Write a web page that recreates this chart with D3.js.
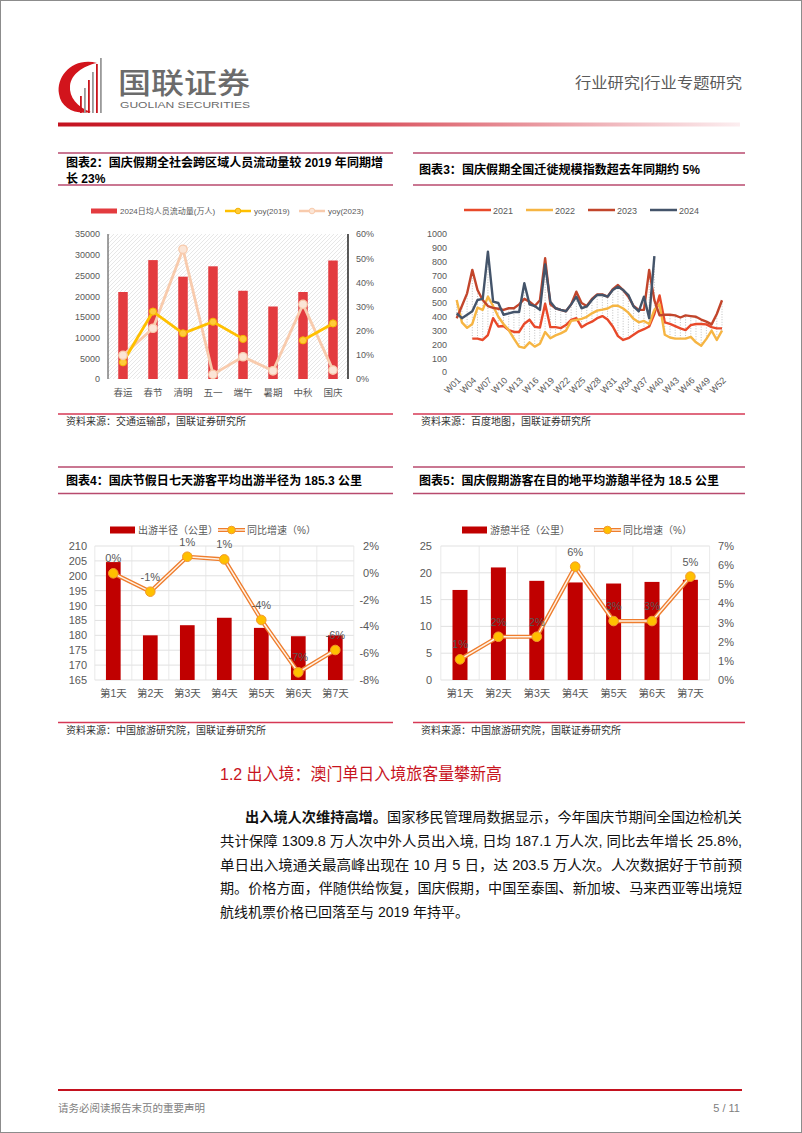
<!DOCTYPE html>
<html><head><meta charset="utf-8">
<script src="https://cdn.jsdelivr.net/npm/d3@7"></script>
<style>
body{margin:0;background:#fff}
svg{display:block}
text{font-family:"Liberation Sans","Noto Sans CJK SC",sans-serif}
</style>
</head><body>
<svg id="page" width="802" height="1133"></svg>
<script>
// ---------- DATA ----------
// Chart 2
const c2Categories = ["春运","春节","清明","五一","端午","暑期","中秋","国庆"];
const c2Flow = [21000,28700,24700,27200,21300,17500,21000,28600];
const c2Yoy2019 = [6.9,27.9,18.9,23.7,16.6,null,16.0,23.0];
const c2Yoy2023 = [9.8,21.0,53.7,1.9,9.2,3.4,30.9,3.7];
const c2LeftTicks = [0,5000,10000,15000,20000,25000,30000,35000];
const c2RightTicks = [0,10,20,30,40,50,60];

// Chart 3
const c3Weeks = ["W01","W02","W03","W04","W05","W06","W07","W08","W09","W10","W11","W12","W13","W14","W15","W16","W17","W18","W19","W20","W21","W22","W23","W24","W25","W26","W27","W28","W29","W30","W31","W32","W33","W34","W35","W36","W37","W38","W39","W40","W41","W42","W43","W44","W45","W46","W47","W48","W49","W50","W51","W52"];
const c3TickLabels = ["W01","W04","W07","W10","W13","W16","W19","W22","W25","W28","W31","W34","W37","W40","W43","W46","W49","W52"];
const c3YTicks = [0,100,200,300,400,500,600,700,800,900,1000];
const s2021 = [null,null,null,242,242,232,268,390,330,333,304,290,290,350,378,328,322,495,325,325,318,340,377,390,325,348,365,390,405,380,330,260,232,245,270,295,310,330,420,555,360,348,333,316,304,340,348,348,345,325,316,316];
const s2022 = [522,360,320,348,466,450,546,478,400,348,304,242,184,175,215,184,205,290,245,265,280,300,370,377,385,400,425,445,452,460,480,480,460,430,385,360,370,348,450,490,270,250,242,242,242,255,215,190,240,300,232,300];
const s2023 = [390,478,570,740,594,522,478,465,458,450,462,462,490,530,510,478,520,824,490,462,450,440,490,582,500,478,530,562,562,546,600,630,594,546,478,450,450,740,520,410,415,415,410,395,410,405,400,380,365,345,420,520];
const s2024 = [425,390,415,440,522,530,872,510,500,415,425,435,435,643,490,478,450,780,510,462,450,440,490,546,462,475,522,558,558,546,594,618,594,558,475,440,546,390,840,null,null,null,null,null,null,null,null,null,null,null,null,null];
const c3SeriesNames = ["2021","2022","2023","2024"];

// Chart 4
const c4Days = ["第1天","第2天","第3天","第4天","第5天","第6天","第7天"];
const c4Radius = [204.6,180.0,183.4,185.9,182.5,179.7,180.0];
const c4Yoy = [-0.04,-1.41,1.2,1.0,-3.52,-7.43,-5.76];
const c4YoyLabels = ["0%","-1%","1%","1%","-4%","-7%","-6%"];
const c4LeftTicks = [165,170,175,180,185,190,195,200,205,210];
const c4RightTicks = [-8,-6,-4,-2,0,2];

// Chart 5
const c5Days = ["第1天","第2天","第3天","第4天","第5天","第6天","第7天"];
const c5Radius = [16.8,21.0,18.5,18.2,18.0,18.3,18.7];
const c5Yoy = [1.08,2.26,2.26,5.92,3.08,3.08,5.40];
const c5YoyLabels = ["1%","2%","2%","6%","3%","3%","5%"];
const c5LeftTicks = [0,5,10,15,20,25];
const c5RightTicks = [0,1,2,3,4,5,6,7];

// ---------- DRAW ----------
const FONT = '"Liberation Sans","Noto Sans CJK SC",sans-serif';
const GRAY = "#595959";
const svg = d3.select("#page");
svg.append("rect").attr("width",802).attr("height",1133).attr("fill","#fff");
svg.append("rect").attr("x",0.5).attr("y",0.5).attr("width",801).attr("height",1132)
  .attr("fill","none").attr("stroke","#8c8c8c").attr("stroke-width",1);

const defs = svg.append("defs");
const grad = defs.append("linearGradient").attr("id","hdrGrad");
grad.append("stop").attr("offset","0").attr("stop-color","#C4121F");
grad.append("stop").attr("offset","0.45").attr("stop-color","#D9505C");
grad.append("stop").attr("offset","1").attr("stop-color","#FCEEF0");
const hatch = defs.append("pattern").attr("id","hatch").attr("patternUnits","userSpaceOnUse")
  .attr("width",4).attr("height",4);
hatch.append("path").attr("d","M-1,1 L1,-1 M0,4 L4,0 M3,5 L5,3").attr("stroke","#dcdcdc").attr("stroke-width",0.7);

function text(g, x, y, s, o={}) {
  const t = g.append("text").attr("x",x).attr("y",y).text(s)
    .attr("font-size", o.size||12).attr("fill", o.fill||"#000")
    .attr("text-anchor", o.anchor||"start");
  if (o.weight) t.attr("font-weight", o.weight);
  if (o.len) t.attr("textLength", o.len).attr("lengthAdjust","spacingAndGlyphs");
  return t;
}

// ---- Header ----
const hdr = svg.append("g");
hdr.append("path").attr("d","M97,63 C73,57 56,76 59,94 C61,108 75,115 91,112 C77,107 69,97 70,86 C71,74 83,66 97,63Z")
  .attr("fill","#D2141C");
[[80,96],[84,88],[88,80],[92,72],[96,64],[100,58]].forEach((p,i)=>{
  hdr.append("rect").attr("x",p[0]).attr("y",p[1]).attr("width",1.8).attr("height",113-p[1])
    .attr("fill", i%2===0 ? "#C9141C" : "#9a9a9a");
});
text(hdr,118,94,"国联证券",{size:29,fill:"#6b6b6b",weight:500,len:132});
text(hdr,120,107.5,"GUOLIAN SECURITIES",{size:8.5,fill:"#6b6b6b",len:130});
text(hdr,575,88,"行业研究|行业专题研究",{size:15,fill:"#5a5a5a",len:167});
hdr.append("rect").attr("x",58).attr("y",122.5).attr("width",682).attr("height",4).attr("fill","url(#hdrGrad)");

// ---- Title blocks ----
function titleRules(x1,x2,yTop,yBot){
  svg.append("line").attr("x1",x1).attr("x2",x2).attr("y1",yTop).attr("y2",yTop).attr("stroke","#B84A6E").attr("stroke-width",1.3);
  svg.append("line").attr("x1",x1).attr("x2",x2).attr("y1",yBot).attr("y2",yBot).attr("stroke","#B84A6E").attr("stroke-width",1.3);
}
function source(x1,x2,y,s){
  svg.append("line").attr("x1",x1).attr("x2",x2).attr("y1",y).attr("y2",y).attr("stroke","#D63855").attr("stroke-width",1.3);
  text(svg,x1+8,y+11,s,{size:10,fill:"#333"});
}
titleRules(58,393,153,185);
text(svg,66,167,"图表2：国庆假期全社会跨区域人员流动量较 2019 年同期增",{size:12,weight:"bold",len:317});
text(svg,66,183,"长 23%",{size:12,weight:"bold"});
titleRules(413,745,153,185);
text(svg,419,174,"图表3：国庆假期全国迁徙规模指数超去年同期约 5%",{size:12,weight:"bold",len:281});
titleRules(58,393,467,493.5);
text(svg,66,485,"图表4：国庆节假日七天游客平均出游半径为 185.3 公里",{size:12,weight:"bold",len:296});
titleRules(413,745,467,493.5);
text(svg,419,485,"图表5：国庆假期游客在目的地平均游憩半径为 18.5 公里",{size:12,weight:"bold",len:300});
source(58,393,414,"资料来源：交通运输部，国联证券研究所");
source(413,745,414,"资料来源：百度地图，国联证券研究所");
source(58,393,722.5,"资料来源：中国旅游研究院，国联证券研究所");
source(413,745,722.5,"资料来源：中国旅游研究院，国联证券研究所");

function styleAxis(g, size){
  g.select(".domain").remove();
  g.selectAll("text").attr("font-family",FONT).attr("font-size",size).attr("fill",GRAY);
}

// ---- Chart 2 ----
(function(){
  const g = svg.append("g");
  const x = d3.scaleBand().domain(c2Categories).range([108,348]);
  const yL = d3.scaleLinear().domain([0,35000]).range([379,234]);
  const yR = d3.scaleLinear().domain([0,60]).range([379,234]);
  g.append("rect").attr("x",108).attr("y",234).attr("width",240).attr("height",145).attr("fill","url(#hatch)");
  g.selectAll(".bar").data(c2Flow).join("rect")
    .attr("x",(d,i)=>x(c2Categories[i])+x.bandwidth()/2-4.75).attr("width",9.5)
    .attr("y",d=>yL(d)).attr("height",d=>yL(0)-yL(d)).attr("fill","#E33B3F");
  g.append("line").attr("x1",108).attr("x2",108).attr("y1",234).attr("y2",379).attr("stroke","#404040");
  g.append("line").attr("x1",348).attr("x2",348).attr("y1",234).attr("y2",379).attr("stroke","#000").attr("stroke-width",1.3);
  const aL = g.append("g").attr("transform","translate(108,0)")
    .call(d3.axisLeft(yL).tickValues(c2LeftTicks).tickSize(0).tickPadding(8).tickFormat(d3.format("d")));
  styleAxis(aL,9);
  const aR = g.append("g").attr("transform","translate(348,0)")
    .call(d3.axisRight(yR).tickValues(c2RightTicks).tickSize(0).tickPadding(8).tickFormat(d=>d+"%"));
  styleAxis(aR,9);
  const aB = g.append("g").attr("transform","translate(0,379)")
    .call(d3.axisBottom(x).tickSize(0).tickPadding(10));
  styleAxis(aB,9.5);
  const cx = i=>x(c2Categories[i])+x.bandwidth()/2;
  const line = d3.line().defined(d=>d!=null).x((d,i)=>cx(i)).y(d=>yR(d));
  g.append("path").attr("d",line(c2Yoy2023)).attr("fill","none").attr("stroke","#F8CBAD").attr("stroke-width",2.8).attr("stroke-linejoin","round");
  g.append("path").attr("d",line(c2Yoy2019)).attr("fill","none").attr("stroke","#FFC000").attr("stroke-width",2.8).attr("stroke-linejoin","round");
  c2Yoy2019.forEach((d,i)=>{ if(d!=null) g.append("circle").attr("cx",cx(i)).attr("cy",yR(d)).attr("r",3.6).attr("fill","#FFCB3A").attr("stroke","#F4B400").attr("stroke-width",1); });
  c2Yoy2023.forEach((d,i)=>{ if(d!=null) g.append("circle").attr("cx",cx(i)).attr("cy",yR(d)).attr("r",4.2).attr("fill","#FBE5D6").attr("stroke","#F8CBAD").attr("stroke-width",1.3); });
  // legend
  g.append("rect").attr("x",91).attr("y",208.5).attr("width",26).attr("height",5).attr("fill","#E33B3F");
  text(g,120,214,"2024日均人员流动量(万人)",{size:8,fill:GRAY});
  g.append("line").attr("x1",225).attr("x2",251).attr("y1",211).attr("y2",211).attr("stroke","#FFC000").attr("stroke-width",2.5);
  g.append("circle").attr("cx",238).attr("cy",211).attr("r",2.8).attr("fill","#FFCB3A").attr("stroke","#F4B400");
  text(g,254,214,"yoy(2019)",{size:8,fill:GRAY});
  g.append("line").attr("x1",299).attr("x2",325).attr("y1",211).attr("y2",211).attr("stroke","#F8CBAD").attr("stroke-width",2.5);
  g.append("circle").attr("cx",312).attr("cy",211).attr("r",2.8).attr("fill","#FBE5D6").attr("stroke","#F8CBAD");
  text(g,328,214,"yoy(2023)",{size:8,fill:GRAY});
})();

// ---- Chart 3 ----
(function(){
  const g = svg.append("g");
  const x = d3.scalePoint().domain(c3Weeks).range([456.7,722]);
  const y = d3.scaleLinear().domain([0,1000]).range([372,234]);
  const series = [s2021,s2022,s2023,s2024];
  const colors = ["#E8492A","#F6B543","#C2452B","#44546A"];
  // high-low lines
  c3Weeks.forEach((w,i)=>{
    const v = series.map(s=>s[i]).filter(d=>d!=null);
    if (v.length>=2) g.append("line").attr("x1",x(w)).attr("x2",x(w)).attr("y1",y(d3.min(v))).attr("y2",y(d3.max(v)))
      .attr("stroke","#a6a6a6").attr("stroke-width",0.7).attr("stroke-dasharray","1,1.6");
  });
  const aL = g.append("g").attr("transform","translate(452,0)")
    .call(d3.axisLeft(y).tickValues(c3YTicks).tickSize(0).tickPadding(5).tickFormat(d3.format("d")));
  styleAxis(aL,9);
  const aB = g.append("g").attr("transform","translate(0,372)")
    .call(d3.axisBottom(x).tickValues(c3TickLabels).tickSize(0));
  styleAxis(aB,9);
  aB.selectAll("text").attr("text-anchor","end").attr("dy",null).attr("y",null)
    .attr("transform","translate(4,9) rotate(-45)");
  series.forEach((s,k)=>{
    const line = d3.line().defined(d=>d!=null).x((d,i)=>x(c3Weeks[i])).y(d=>y(d));
    g.append("path").attr("d",line(s)).attr("fill","none").attr("stroke",colors[k])
      .attr("stroke-width",2.4).attr("stroke-linejoin","round");
  });
  const lx = [464,526,588,650];
  c3SeriesNames.forEach((n,k)=>{
    g.append("line").attr("x1",lx[k]).attr("x2",lx[k]+27).attr("y1",210).attr("y2",210).attr("stroke",colors[k]).attr("stroke-width",2.5);
    text(g,lx[k]+29,213.5,n,{size:9,fill:GRAY});
  });
})();

// ---- Combo charts (4 & 5) ----
function combo(opt){
  const g = svg.append("g");
  const x = d3.scaleBand().domain(opt.cats).range(opt.xr);
  const yL = d3.scaleLinear().domain(opt.lDom).range([680,546]);
  const yR = d3.scaleLinear().domain(opt.rDom).range([680,546]);
  opt.lTicks.forEach(t=>g.append("line").attr("x1",opt.xr[0]).attr("x2",opt.xr[1]).attr("y1",yL(t)).attr("y2",yL(t)).attr("stroke","#d9d9d9").attr("stroke-width",0.8));
  for(let i=0;i<=opt.cats.length;i++){
    const xx = opt.xr[0]+i*x.bandwidth();
    g.append("line").attr("x1",xx).attr("x2",xx).attr("y1",546).attr("y2",680).attr("stroke","#e4e4e4").attr("stroke-width",0.8);
  }
  const bw = opt.bw;
  g.selectAll(".bar").data(opt.bars).join("rect")
    .attr("x",(d,i)=>x(opt.cats[i])+x.bandwidth()/2-bw/2).attr("width",bw)
    .attr("y",d=>yL(d)).attr("height",d=>680-yL(d)).attr("fill","#C00000");
  const aL = g.append("g").attr("transform",`translate(${opt.lx},0)`)
    .call(d3.axisLeft(yL).tickValues(opt.lTicks).tickSize(0).tickPadding(0));
  styleAxis(aL,11);
  const aR = g.append("g").attr("transform",`translate(${opt.rx},0)`)
    .call(d3.axisLeft(yR).tickValues(opt.rTicks).tickSize(0).tickPadding(0).tickFormat(d=>d+"%"));
  styleAxis(aR,11);
  const aB = g.append("g").attr("transform","translate(0,680)")
    .call(d3.axisBottom(x).tickSize(0).tickPadding(10));
  styleAxis(aB,10.5);
  const cx = i=>x(opt.cats[i])+x.bandwidth()/2;
  const line = d3.line().x((d,i)=>cx(i)).y(d=>yR(d));
  g.append("path").attr("d",line(opt.yoy)).attr("fill","none").attr("stroke","#EE7D2E").attr("stroke-width",4.2).attr("stroke-linejoin","round");
  g.append("path").attr("d",line(opt.yoy)).attr("fill","none").attr("stroke","#FFF3E6").attr("stroke-width",1.5).attr("stroke-linejoin","round");
  opt.yoy.forEach((d,i)=>{
    g.append("circle").attr("cx",cx(i)).attr("cy",yR(d)).attr("r",4.8).attr("fill","#FFC000").attr("stroke","#F39A2C").attr("stroke-width",1);
    text(g,cx(i),yR(d)-11,opt.labels[i],{size:11,fill:GRAY,anchor:"middle"});
  });
  // legend
  g.append("rect").attr("x",opt.leg[0]).attr("y",526.5).attr("width",25).attr("height",7).attr("fill","#C00000");
  text(g,opt.leg[0]+28,534,opt.barName,{size:10,fill:GRAY});
  const sx = opt.leg[1];
  g.append("line").attr("x1",sx).attr("x2",sx+27).attr("y1",530).attr("y2",530).attr("stroke","#EE7D2E").attr("stroke-width",4);
  g.append("line").attr("x1",sx).attr("x2",sx+27).attr("y1",530).attr("y2",530).attr("stroke","#FFF3E6").attr("stroke-width",1.4);
  g.append("circle").attr("cx",sx+13.5).attr("cy",530).attr("r",3.8).attr("fill","#FFC000").attr("stroke","#F39A2C");
  text(g,sx+29,534,"同比增速（%）",{size:10,fill:GRAY});
}
combo({cats:c4Days,xr:[94.8,353.8],lDom:[165,210],rDom:[-8,2],lTicks:c4LeftTicks,rTicks:c4RightTicks,
  bars:c4Radius,yoy:c4Yoy,labels:c4YoyLabels,bw:14.7,lx:87,rx:379,leg:[110,218],barName:"出游半径（公里）"});
combo({cats:c5Days,xr:[440.8,709.6],lDom:[0,25],rDom:[0,7],lTicks:c5LeftTicks,rTicks:c5RightTicks,
  bars:c5Radius,yoy:c5Yoy,labels:c5YoyLabels,bw:15,lx:432,rx:734,leg:[462,594],barName:"游憩半径（公里）"});

// ---- Section text ----
text(svg,220,780,"1.2 出入境：澳门单日入境旅客量攀新高",{size:17,fill:"#C8141E",len:282});
const p1 = svg.append("text").attr("x",245).attr("y",822).attr("font-size",14).attr("fill","#111")
  .attr("textLength",497).attr("lengthAdjust","spacingAndGlyphs");
p1.append("tspan").attr("font-weight","bold").text("出入境人次维持高增。");
p1.append("tspan").text("国家移民管理局数据显示，今年国庆节期间全国边检机关");
text(svg,220,846,"共计保障 1309.8 万人次中外人员出入境, 日均 187.1 万人次, 同比去年增长 25.8%,",{size:14,fill:"#111",len:522});
text(svg,220,870,"单日出入境通关最高峰出现在 10 月 5 日，达 203.5 万人次。人次数据好于节前预",{size:14,fill:"#111",len:522});
text(svg,220,893,"期。价格方面，伴随供给恢复，国庆假期，中国至泰国、新加坡、马来西亚等出境短",{size:14,fill:"#111",len:522});
text(svg,220,917,"航线机票价格已回落至与 2019 年持平。",{size:14,fill:"#111"});

// ---- Footer ----
svg.append("line").attr("x1",58).attr("x2",742).attr("y1",1090).attr("y2",1090).attr("stroke","#C4121F").attr("stroke-width",2);
text(svg,58,1112,"请务必阅读报告末页的重要声明",{size:10.5,fill:"#808080"});
text(svg,740,1112,"5 / 11",{size:11,fill:"#808080",anchor:"end"});
</script>
</body></html>
